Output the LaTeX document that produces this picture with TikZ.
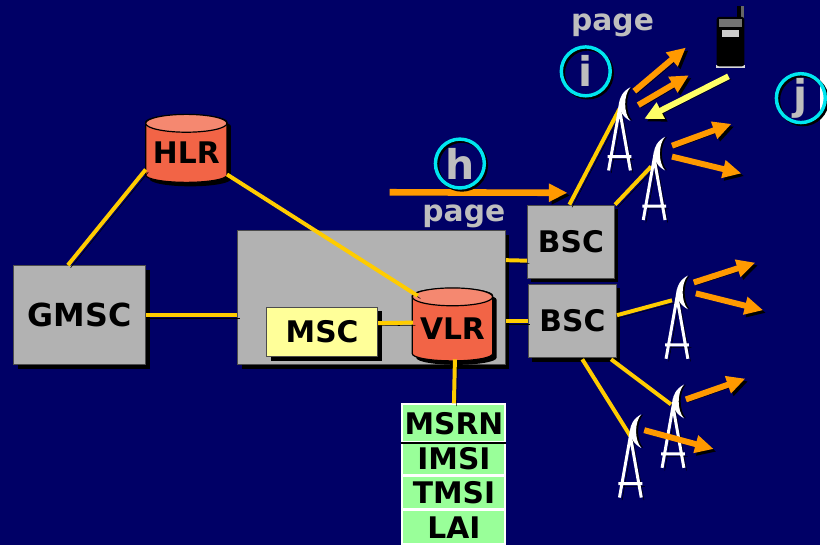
\documentclass[tikz,border=0pt]{standalone}
\usepackage{fontspec}
\setmainfont{DejaVu Sans}
\usetikzlibrary{shapes.geometric,shadows,calc,arrows.meta}

\definecolor{navy}{RGB}{0,0,102}
\definecolor{boxgray}{RGB}{178,178,178}
\definecolor{linkyellow}{RGB}{255,204,0}
\definecolor{radioorange}{RGB}{255,153,0}
\definecolor{palegold}{RGB}{255,255,102}
\definecolor{mscyellow}{RGB}{255,255,153}
\definecolor{dbred}{RGB}{242,100,70}
\definecolor{dbtop}{RGB}{245,136,112}
\definecolor{cellgreen}{RGB}{153,255,153}
\definecolor{ringcyan}{RGB}{0,230,240}
\definecolor{lettergray}{RGB}{190,190,190}

\newcommand\boxfont{\fontsize{22.5}{26}\selectfont\bfseries}

\tikzset{
  boxshadow/.style={drop shadow={shadow xshift=3pt,shadow yshift=-3pt,fill=black,opacity=1}},
  lineshadow/.style={preaction={draw=black,transform canvas={xshift=2pt,yshift=-2pt}}},
  block/.style={rectangle,draw=black!70,line width=0.75pt,inner sep=0pt,boxshadow,font=\boxfont},
  grayblock/.style={block,fill=boxgray},
  db/.style={cylinder,shape border rotate=90,aspect=0.22,draw=black,line width=0.9pt,
    fill=dbred,inner sep=0pt,boxshadow,font=\boxfont},
  dbend/.style={fill=dbtop,draw=black,line width=0.9pt},
  cell/.style={rectangle,fill=cellgreen,draw=white,line width=1.5pt,minimum width=78pt,
    inner sep=0pt,font=\boxfont},
  link/.style={draw=linkyellow,line width=3pt,lineshadow},
  radio/.style={draw=radioorange,line width=4.5pt,-{Triangle[length=14pt,width=13pt]},lineshadow},
  ring/.style={circle,draw=ringcyan,line width=2.6pt,minimum size=37pt,inner sep=0pt,
    preaction={draw=black,transform canvas={xshift=1.5pt,yshift=-1.5pt}},
    text=lettergray,font=\fontsize{31}{31}\selectfont\bfseries},
  pagetext/.style={inner sep=0pt,text=lettergray,font=\boxfont},
  mast/.style={draw=white,line width=2.25pt,lineshadow},
  tower/.pic={
    \draw [mast] (-11,-62) -- (0,0) -- (11,-62) (-12,-48) -- (12,-48);
    \fill [black] (13,22) .. controls (-2,14) and (-2,-4) .. (13,-12) .. controls (6,-4) and (6,14) .. (13,22) -- cycle;
    \fill [white] (11,22) .. controls (-4,14) and (-4,-4) .. (11,-12) .. controls (4,-4) and (4,14) .. (11,22) -- cycle;
  }
}

\begin{document}
\begin{tikzpicture}[x=0.75pt,y=0.75pt,yscale=-1,xscale=1]
\path [fill=navy] (0,0) rectangle (827,550);

% Block Nodes
\draw (80.5,318) node [grayblock,minimum width=99.75pt,minimum height=75pt] (gmsc) {\fontsize{24}{28}\selectfont GMSC};
\draw (375,300.5) node [grayblock,minimum width=202.5pt,minimum height=101.25pt] (core) {};
\draw (325,335) node [block,fill=mscyellow,minimum width=84pt,minimum height=37.5pt] (msc) {MSC};
\draw (576,244) node [grayblock,minimum width=66pt,minimum height=55.5pt] (bsc1) {BSC};
\draw (577.5,324) node [grayblock,minimum width=66.75pt,minimum height=55.5pt] (bsc2) {BSC};
% Database Nodes
\draw (188,154) node [db,minimum width=61.5pt,minimum height=51pt] (hlr) {HLR};
\draw (456.5,331.5) node [db,minimum width=60.75pt,minimum height=54.75pt] (vlr) {VLR};
\draw [dbend] ($(hlr.north)+(0,9)$) ellipse [x radius=41,y radius=9];
\draw [dbend] ($(vlr.north)+(0,9)$) ellipse [x radius=40.5,y radius=9];
% Record Nodes
\draw (458,427) node [cell,minimum height=28.5pt] (msrn) {MSRN};
\draw (458,463) node [cell,minimum height=24pt] (imsi) {IMSI};
\draw (458,497) node [cell,minimum height=24.75pt] (tmsi) {TMSI};
\draw (458,532) node [cell,minimum height=25.5pt] (lai) {LAI};
\draw [black,line width=1pt] (msrn.south west) -- (msrn.south east);

% Towers
\coordinate (t1) at (625,110);
\coordinate (t2) at (660,160);
\coordinate (t3) at (683,300);
\coordinate (t4) at (679,410);
\coordinate (t5) at (636,440);
\coordinate (phone) at (737,40);
\coordinate (pagefrom) at (393,194);

% Connections
\draw [link] ($(gmsc.north)+(-12,0)$) -- ($(hlr.center)+(-41,17)$);
\draw [link] ($(hlr.center)+(41,22)$) -- ($(vlr.center)+(-35,-33)$);
\draw [link] (gmsc.east) -- (gmsc.east -| core.west);
\draw [link] ($(msc.east)+(0,-9)$) -- ($(vlr.center)+(-40,-6)$);
\draw [link] ($(core.north east)+(0,30)$) -- ($(bsc1.west)+(0,19)$);
\draw [link] (bsc2.west -| core.east) -- (bsc2.west);
\draw [link] (msrn.north) -- ($(vlr.center)+(2.5,31)$);
\draw [link] ($(bsc1.north west)+(43,0)$) -- (t1);
\draw [link] (bsc1.north east) -- ($(t2)+(-3,8)$);
\draw [link] ($(bsc2.east)+(0,-6)$) -- ($(t3)+(-5,3)$);
\draw [link] ($(bsc2.south east)+(-6,1)$) -- ($(t4)+(-2,-2)$);
\draw [link] ($(bsc2.south)+(10,1)$) -- (t5);

\foreach \t in {t1,t2,t3,t4,t5} \pic at (\t) {tower};

% Radio Arrows
\draw [radio] ($(t1)+(15,-18)$) -- ++(52,-44);
\draw [radio] ($(t1)+(19,-4)$) -- ++(51,-30);
\draw [radio] ($(t2)+(18,-13)$) -- ++(60,-22);
\draw [radio] ($(t2)+(18,-2)$) -- ++(70,17);
\draw [radio] ($(t3)+(17,-15)$) -- ++(62,-20);
\draw [radio] ($(t3)+(19,-4)$) -- ++(68,17);
\draw [radio] ($(t4)+(13,-7)$) -- ++(60,-21);
\draw [radio] ($(t5)+(14,-6)$) -- ++(70,19);
\draw [radio,line width=5pt] (pagefrom) -- ($(bsc1.north west)+(41,-12)$);

% Phone
\fill [black!60] (746,6) rectangle (751,20);
\fill [black] (744,6) rectangle (748,20);
\fill [white!85!black] (722,66) rectangle (752,69);
\fill [black, rounded corners=2pt] (723,17) rectangle (751,67);
\fill [black!55] (725,19) rectangle (749,27);
\fill [white!80!black] (728,30) rectangle (746,37);
\draw [palegold,line width=4.5pt,-{Triangle[length=14pt,width=13pt]},lineshadow] ($(phone)+(-2,37)$) -- ($(t1)+(25,10)$);

% Labels
\draw (468,218) node [pagetext] (pagelow) {page};
\draw (618,26) node [pagetext] (pagetop) {page};
\draw (464,165) node [ring] (ringh) {h};
\draw (591,72) node [ring] (ringi) {i};
\draw (808,99) node [ring] (ringj) {j};

\end{tikzpicture}
\end{document}
